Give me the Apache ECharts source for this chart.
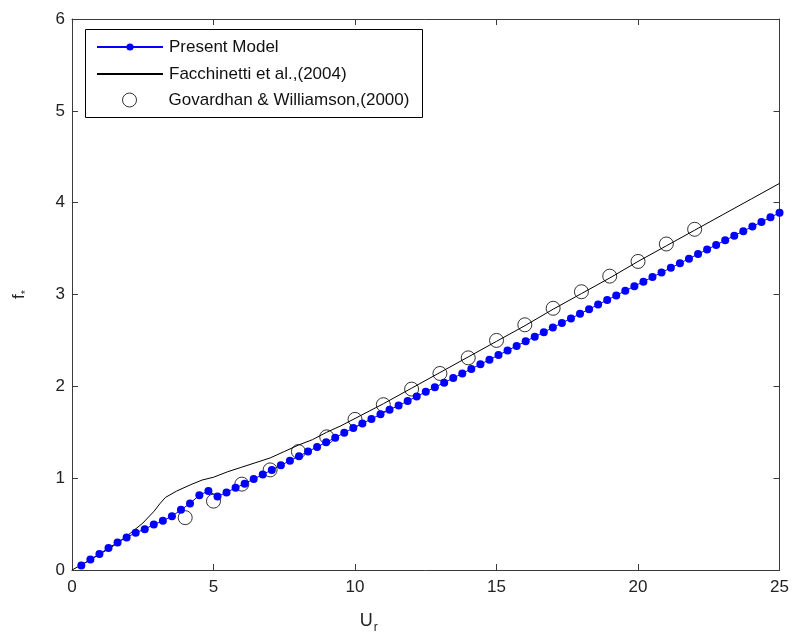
<!DOCTYPE html>
<html>
<head>
<meta charset="utf-8">
<script src="https://cdn.jsdelivr.net/npm/echarts@6/dist/echarts.min.js"></script>
<style>html,body{margin:0;padding:0;background:#fff}#c{width:792px;height:639px}</style>
</head>
<body>
<div id="c"></div>
<script>
// Present Model
var presentUr = [0.33,0.65,0.97,1.29,1.61,1.93,2.25,2.57,2.89,3.21,3.53,3.85,4.17,4.50,4.82,5.14,5.46,5.78,6.10,6.42,6.74,7.06,7.38,7.70,8.02,8.34,8.66,8.98,9.30,9.62,9.94,10.26,10.58,10.90,11.22,11.54,11.86,12.18,12.50,12.82,13.15,13.47,13.79,14.11,14.43,14.75,15.07,15.39,15.71,16.03,16.35,16.67,16.99,17.31,17.63,17.95,18.27,18.59,18.91,19.23,19.55,19.87,20.19,20.51,20.83,21.16,21.48,21.80,22.12,22.44,22.76,23.08,23.40,23.72,24.04,24.36,24.68,25.00];
var presentF = [0.05,0.115,0.175,0.24,0.30,0.355,0.405,0.445,0.495,0.535,0.585,0.655,0.725,0.815,0.86,0.80,0.845,0.895,0.94,0.99,1.04,1.09,1.14,1.19,1.24,1.29,1.34,1.39,1.44,1.495,1.545,1.595,1.645,1.695,1.745,1.79,1.84,1.89,1.94,1.99,2.04,2.09,2.14,2.19,2.24,2.29,2.34,2.39,2.44,2.49,2.54,2.59,2.64,2.69,2.74,2.79,2.84,2.89,2.94,2.99,3.04,3.09,3.14,3.19,3.24,3.29,3.34,3.39,3.44,3.49,3.54,3.59,3.64,3.69,3.74,3.79,3.84,3.89];
// Facchinetti et al. (2004)
var facUr = [0,0.5,1.0,1.5,2.0,2.5,2.9,3.1,3.3,3.7,4.2,4.6,5.0,5.5,6.0,6.5,7.0,7.5,8.0,8.5,9.0,9.5,10.0,10.5,11,12,13,14,15,16,17,18,19,20,21,22,23,24,25];
var facF = [0,0.085,0.175,0.27,0.385,0.51,0.64,0.72,0.79,0.86,0.93,0.98,1.01,1.07,1.12,1.17,1.22,1.29,1.36,1.42,1.50,1.57,1.65,1.73,1.81,1.98,2.15,2.32,2.49,2.66,2.84,3.01,3.18,3.36,3.53,3.70,3.87,4.04,4.21];
// Govardhan & Williamson (2000)
var govUr = [4,5,6,7,8,9,10,11,12,13,14,15,16,17,18,19,20,21,22];
var govF = [0.57,0.75,0.935,1.09,1.29,1.45,1.64,1.80,1.97,2.14,2.31,2.50,2.67,2.85,3.03,3.20,3.36,3.55,3.71];
var xTicks = [0,5,10,15,20,25];
var yTicks = [0,1,2,3,4,5,6];

function pairs(xs, ys){ return xs.map(function(x,i){ return [x, ys[i]]; }); }

var FONT = 'Liberation Sans, Arial, Helvetica, sans-serif';
var AX = '#3a3a3a';
var chart = echarts.init(document.getElementById('c'), null, {renderer:'canvas'});
var baseX = {
  type:'value', min:xTicks[0], max:xTicks[xTicks.length-1], interval:5,
  splitLine:{show:false},
  axisLine:{show:true, onZero:false, lineStyle:{color:AX, width:1}},
  axisTick:{show:true, inside:true, length:6, lineStyle:{color:AX}},
};
var baseY = {
  type:'value', min:yTicks[0], max:yTicks[yTicks.length-1], interval:1,
  splitLine:{show:false},
  axisLine:{show:true, onZero:false, lineStyle:{color:AX, width:1}},
  axisTick:{show:true, inside:true, length:6, lineStyle:{color:AX}},
};
chart.setOption({
  animation:false,
  backgroundColor:'#fff',
  textStyle:{fontFamily:FONT},
  grid:{left:72, right:12, top:19, bottom:64, containLabel:false},
  xAxis:[
    Object.assign({}, baseX, {position:'bottom',
      axisLabel:{show:true, fontSize:17, color:'#222', margin:9, fontFamily:FONT},
      name:'{u|U}{r|r}', nameLocation:'middle', nameGap:38,
      nameTextStyle:{padding:[0,114,0,0], rich:{
        u:{fontSize:18, color:'#222', fontFamily:FONT, lineHeight:22, verticalAlign:'bottom'},
        r:{fontSize:12, color:'#222', fontFamily:FONT, lineHeight:12, verticalAlign:'bottom', padding:[0,0,-4,1]}
      }}
    }),
    Object.assign({}, baseX, {position:'top', axisLabel:{show:false}})
  ],
  yAxis:[
    Object.assign({}, baseY, {position:'left',
      axisLabel:{show:true, fontSize:17, color:'#222', margin:7, fontFamily:FONT},
      name:'{f|f}{s|*}', nameLocation:'middle', nameGap:44, nameRotate:90,
      nameTextStyle:{rich:{
        f:{fontSize:17, color:'#222', fontFamily:FONT, lineHeight:20, verticalAlign:'bottom'},
        s:{fontSize:11, color:'#222', fontFamily:FONT, lineHeight:11, verticalAlign:'bottom', padding:[0,0,-3,0]}
      }}
    }),
    Object.assign({}, baseY, {position:'right', axisLabel:{show:false}})
  ],
  graphic:[{type:'rect', z:1, shape:{x:85.5, y:29.5, width:337, height:88}, style:{fill:'#fff', stroke:'#000', lineWidth:1}}],
  legend:[
    {data:['Present Model', {name:'Facchinetti et al.,(2004)', itemStyle:{color:'rgba(0,0,0,0)', borderWidth:0, opacity:0}}],
     orient:'vertical', left:96, top:37, padding:0,
     itemWidth:66, itemHeight:9, itemGap:7, z:5,
     textStyle:{fontSize:17, color:'#111', fontFamily:FONT, lineHeight:20, padding:[0,0,0,1]}},
    {data:['Govardhan & Williamson,(2000)'], orient:'vertical', left:122, top:90, padding:0,
     itemWidth:14, itemHeight:14, z:5,
     itemStyle:{borderWidth:1, borderColor:'#000', color:'rgba(255,255,255,0)'},
     textStyle:{fontSize:17, color:'#111', fontFamily:FONT, lineHeight:20, padding:[0,0,0,27]}}
  ],
  series:[
    {name:'Present Model', type:'line', data:pairs(presentUr, presentF),
     symbol:'circle', symbolSize:8, showAllSymbol:true, clip:true,
     itemStyle:{color:'#0000ff'}, lineStyle:{color:'#0000ff', width:1}},
    {name:'Facchinetti et al.,(2004)', type:'line', data:pairs(facUr, facF),
     symbol:'none', smooth:false, clip:true,
     itemStyle:{color:'#000'}, lineStyle:{color:'#000', width:1}},
    {name:'Govardhan & Williamson,(2000)', type:'scatter', data:pairs(govUr, govF),
     symbol:'circle', symbolSize:14,
     itemStyle:{color:'rgba(255,255,255,0)', borderColor:'#000', borderWidth:1}}
  ]
});
</script>
</body>
</html>
